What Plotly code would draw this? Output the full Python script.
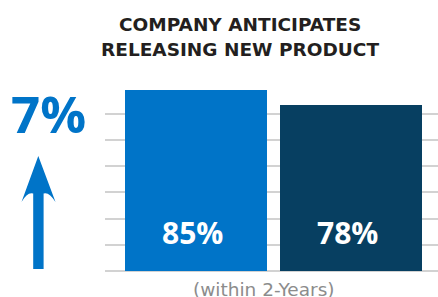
import plotly.graph_objects as go

categories = ["Company A", "Company B"]
values = [85, 78]
value_labels = ["85%", "78%"]
bar_colors = ["#0074c8", "#073f61"]
title_lines = ["COMPANY ANTICIPATES", "RELEASING NEW PRODUCT"]
change_label = "7%"
x_label = "(within 2-Years)"

W, H = 438, 297
L, R, T, B = 105, 0, 90, 26
PW, PH = W - L - R, H - T - B

def px(x):
    return (x - L) / PW

def py(y):
    return (H - B - y) / PH

fig = go.Figure()
fig.add_trace(go.Bar(
    x=list(range(len(categories))), y=values,
    marker=dict(color=bar_colors, line=dict(width=0)),
    width=0.916, hoverinfo="skip", showlegend=False,
))

for i, lab in enumerate(value_labels):
    fig.add_annotation(x=i, y=0, yref="y", xref="x", text=lab, showarrow=False,
                       yanchor="middle", yshift=38.5, xshift=-4,
                       font=dict(family="Open Sans", size=30, color="white", weight="bold"))

# arrow path (pixel-based decoration)
path = (f"M {px(38.3)} {py(156)} L {px(55.5)} {py(202)} "
        f"Q {px(49)} {py(191.5)} {px(43.6)} {py(193.5)} L {px(43.6)} {py(269)} "
        f"L {px(33.2)} {py(269)} L {px(33.2)} {py(193.5)} "
        f"Q {px(27.5)} {py(191.5)} {px(21.5)} {py(202)} Z")
fig.add_shape(type="path", path=path, xref="paper", yref="paper",
              fillcolor="#0074c8", line=dict(width=0), layer="above")

fig.add_annotation(x=px(48), y=py(113), xref="paper", yref="paper", text=change_label,
                   showarrow=False, xanchor="center", yanchor="middle",
                   font=dict(family="Open Sans", size=51, color="#0074c8", weight="bold"))

for line, yc in zip(title_lines, [24.5, 50]):
    fig.add_annotation(x=px(240), y=py(yc), xref="paper", yref="paper",
                       text=line, showarrow=False,
                       xanchor="center", yanchor="middle", align="center",
                       font=dict(family="DejaVu Sans", size=18.5, color="#231f20", weight="bold"))

fig.add_annotation(x=px(264), y=py(289), xref="paper", yref="paper", text=x_label,
                   showarrow=False, xanchor="center", yanchor="middle",
                   font=dict(family="DejaVu Sans", size=18.5, color="#8c8c8c"))

fig.update_layout(
    width=W, height=H, margin=dict(l=L, r=R, t=T, b=B),
    paper_bgcolor="white", plot_bgcolor="white",
    xaxis=dict(range=[-0.587, 1.561], showticklabels=False, showgrid=False,
               zeroline=False, showline=False, ticks=""),
    yaxis=dict(range=[0, 85], dtick=12.3, showticklabels=False, showgrid=True,
               gridcolor="#d2d2d2", gridwidth=1.5, zeroline=True,
               zerolinecolor="#d2d2d2", zerolinewidth=1.5, showline=False, ticks=""),
    bargap=0,
)

fig.write_html("out.html", config={"displayModeBar": False},
               post_script="document.body.style.margin='0';document.body.style.overflow='hidden';")
